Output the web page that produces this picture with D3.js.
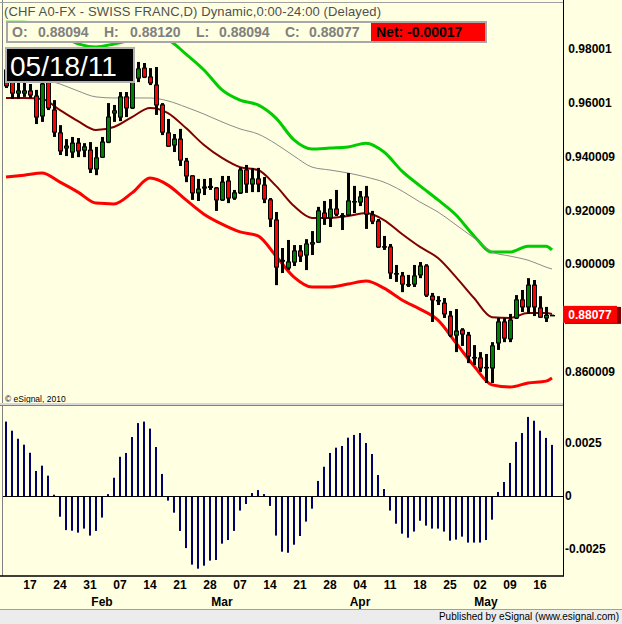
<!DOCTYPE html>
<html>
<head>
<meta charset="utf-8">
<script src="https://cdn.jsdelivr.net/npm/d3@7"></script>
<style>
body { margin: 0; background: #ffffe1; }
svg { display: block; }
text { font-family: "Liberation Sans", Arial, sans-serif; }
</style>
</head>
<body>
<div id="chart"></div>
<script>
// daily CHF bars, one per weekday from 11 Jan 2011 to 18 May 2011
let opens = [0.9722,0.9692,0.9636,0.9636,0.9644,0.9625,0.9551,0.9677,0.9573,0.9488,
    0.9432,0.9417,0.9450,0.9424,0.9424,0.9354,0.9398,0.9454,0.9562,0.9547,
    0.9622,0.9581,0.9692,0.9729,0.9696,0.9666,0.9592,0.9488,0.9443,0.9465,
    0.9383,0.9328,0.9265,0.9283,0.9285,0.9283,0.9239,0.9309,0.9246,0.9265,
    0.9350,0.9298,0.9317,0.9294,0.9239,0.9164,0.9011,0.8986,0.9008,0.9049,
    0.9034,0.9075,0.9082,0.9190,0.9172,0.9205,0.9177,0.9183,0.9231,0.9231,
    0.9250,0.9183,0.9160,0.9064,0.9064,0.8963,0.8956,0.8922,0.8926,0.8960,
    0.8993,0.8881,0.8863,0.8855,0.8807,0.8736,0.8755,0.8736,0.8651,0.8651,
    0.8614,0.8614,0.8707,0.8785,0.8722,0.8800,0.8867,0.8841,0.8922,0.8837,
    0.8800,0.88094];
let highs = [0.9744,0.9722,0.9685,0.9677,0.9670,0.9648,0.9692,0.9689,0.9610,0.9517,
    0.9465,0.9473,0.9469,0.9450,0.9454,0.9436,0.9473,0.9599,0.9592,0.9640,
    0.9640,0.9752,0.9752,0.9748,0.9729,0.9733,0.9599,0.9540,0.9484,0.9503,
    0.9395,0.9331,0.9317,0.9317,0.9320,0.9287,0.9328,0.9328,0.9276,0.9361,
    0.9369,0.9358,0.9358,0.9324,0.9246,0.9194,0.9060,0.9090,0.9071,0.9071,
    0.9093,0.9123,0.9213,0.9235,0.9242,0.9276,0.9190,0.9339,0.9291,0.9272,
    0.9291,0.9198,0.9168,0.9105,0.9075,0.8997,0.8971,0.8960,0.8997,0.9008,
    0.9000,0.8893,0.8881,0.8874,0.8826,0.8833,0.8762,0.8748,0.8699,0.8673,
    0.8666,0.8710,0.8800,0.8800,0.8815,0.8885,0.8904,0.8948,0.8941,0.8881,
    0.8841,0.88120];
let lows = [0.9655,0.9614,0.9614,0.9622,0.9618,0.9521,0.9529,0.9573,0.9473,0.9406,
    0.9402,0.9395,0.9398,0.9398,0.9339,0.9331,0.9395,0.9450,0.9529,0.9532,
    0.9547,0.9577,0.9677,0.9692,0.9666,0.9555,0.9480,0.9436,0.9417,0.9365,
    0.9305,0.9239,0.9235,0.9257,0.9276,0.9198,0.9235,0.9227,0.9239,0.9261,
    0.9265,0.9268,0.9268,0.9227,0.9138,0.8922,0.8967,0.8978,0.8993,0.9008,
    0.8978,0.9034,0.9079,0.9146,0.9138,0.9179,0.9127,0.9179,0.9190,0.9216,
    0.9131,0.9149,0.9060,0.9053,0.8945,0.8934,0.8896,0.8915,0.8915,0.8948,
    0.8878,0.8785,0.8848,0.8800,0.8729,0.8673,0.8696,0.8632,0.8625,0.8599,
    0.8558,0.8558,0.8681,0.8710,0.8710,0.8796,0.8822,0.8815,0.8807,0.8800,
    0.8785,0.88077];
let closes = [0.9663,0.9636,0.9644,0.9644,0.9629,0.9547,0.9670,0.9581,0.9491,0.9421,
    0.9439,0.9450,0.9421,0.9436,0.9354,0.9395,0.9454,0.9547,0.9570,0.9622,
    0.9581,0.9729,0.9726,0.9696,0.9674,0.9592,0.9491,0.9439,0.9465,0.9387,
    0.9328,0.9265,0.9279,0.9287,0.9289,0.9239,0.9305,0.9246,0.9265,0.9350,
    0.9298,0.9317,0.9298,0.9242,0.9168,0.8989,0.9014,0.9008,0.9049,0.9030,
    0.9075,0.9080,0.9198,0.9172,0.9205,0.9186,0.9181,0.9235,0.9233,0.9250,
    0.9186,0.9160,0.9064,0.9065,0.8967,0.8965,0.8926,0.8924,0.8956,0.8993,
    0.8885,0.8867,0.8865,0.8815,0.8736,0.8751,0.8740,0.8658,0.8653,0.8614,
    0.8616,0.8696,0.8785,0.8725,0.8792,0.8867,0.8841,0.8922,0.8841,0.8803,
    0.88094,0.88077];

// lower pane oscillator
let oscValues = [0.00351,0.00308,0.00270,0.00242,0.00204,0.00118,0.00143,0.00096,0.00006,-0.00093,
    -0.00156,-0.00159,-0.00168,-0.00149,-0.00182,-0.00160,-0.00097,0.00009,0.00086,0.00185,
    0.00203,0.00278,0.00344,0.00351,0.00318,0.00231,0.00104,-0.00017,-0.00074,-0.00160,
    -0.00241,-0.00319,-0.00338,-0.00324,-0.00300,-0.00297,-0.00220,-0.00203,-0.00160,-0.00064,
    -0.00033,0.00014,0.00028,0.00009,-0.00042,-0.00182,-0.00258,-0.00263,-0.00225,-0.00184,
    -0.00116,-0.00055,0.00071,0.00138,0.00203,0.00228,0.00236,0.00275,0.00288,0.00297,
    0.00250,0.00198,0.00099,0.00033,-0.00064,-0.00126,-0.00173,-0.00192,-0.00163,-0.00112,
    -0.00135,-0.00149,-0.00149,-0.00163,-0.00206,-0.00201,-0.00187,-0.00215,-0.00215,-0.00215,
    -0.00203,-0.00107,0.00019,0.00066,0.00156,0.00255,0.00297,0.00373,0.00355,0.00308,
    0.00274,0.00241];

// overlay studies, read at every third bar
let lineIdx = [0,3,6,9,12,15,18,21,24,27,30,33,36,39,42,45,48,51,54,57,60,63,66,69,72,75,78,81,84,87,90,91];
let maFast = [0.9618,0.9618,0.9614,0.9573,0.9532,0.9499,0.9510,0.9547,0.9581,0.9562,0.9506,0.9443,0.9395,0.9361,0.9350,0.9291,
    0.9216,0.9172,0.9172,0.9179,0.9190,0.9164,0.9112,0.9064,0.9023,0.8952,0.8874,0.8803,0.8800,0.8818,0.8818,0.8815];
let maSlow = [0.9711,0.9700,0.9689,0.9670,0.9644,0.9622,0.9618,0.9618,0.9618,0.9607,0.9584,0.9558,0.9529,0.9503,0.9484,0.9447,
    0.9402,0.9361,0.9350,0.9339,0.9324,0.9305,0.9272,0.9231,0.9194,0.9146,0.9097,0.9045,0.9030,0.9015,0.8989,0.8982];
let bandUpper = [0.9900,0.9900,0.9893,0.9856,0.9819,0.9808,0.9819,0.9834,0.9848,0.9834,0.9781,0.9722,0.9648,0.9610,0.9592,0.9543,
    0.9462,0.9428,0.9432,0.9436,0.9450,0.9417,0.9346,0.9291,0.9239,0.9183,0.9105,0.9045,0.9045,0.9067,0.9067,0.9053];
let bandLower = [0.9324,0.9331,0.9339,0.9305,0.9268,0.9227,0.9224,0.9265,0.9320,0.9294,0.9239,0.9186,0.9149,0.9120,0.9105,0.9030,
    0.8952,0.8915,0.8915,0.8926,0.8937,0.8911,0.8867,0.8833,0.8792,0.8707,0.8621,0.8551,0.8543,0.8558,0.8565,0.8577];

let priceTicks = [0.98001, 0.96001, 0.940009, 0.920009, 0.900009, 0.860009];
let priceLabels = ['0.98001', '0.96001', '0.940009', '0.920009', '0.900009', '0.860009'];
let oscTicks = [0.0025, 0, -0.0025];
let oscLabels = ['0.0025', '0', '-0.0025'];
let monthNames = ['Feb', 'Mar', 'Apr', 'May'];

let titleText = '(CHF A0-FX - SWISS FRANC,D) Dynamic,0:00-24:00 (Delayed)';
let lastBar = { O: '0.88094', H: '0.88120', L: '0.88094', C: '0.88077', net: '-0.00017' };
let dateText = '05/18/11';

const W = 622, H = 624;
const bg = '#ffffe1';
const axisX = 563;

let days = d3.timeDay.range(new Date(2011, 0, 11), new Date(2011, 4, 19))
    .filter(d => d.getDay() > 0 && d.getDay() < 6);

function draw_chart() {
    let svg = d3.select('#chart').append('svg')
        .attr('width', W)
        .attr('height', H);

    svg.append('rect').attr('width', W).attr('height', H).attr('fill', bg);

    let x = d3.scaleBand()
        .domain(d3.range(days.length))
        .range([3, 3 + 6 * days.length])
        .padding(0);
    let cx = i => x(i) + x.bandwidth() / 2;

    let y = d3.scaleLinear()
        .domain([0.860009, 0.98001])
        .range([371.7, 49]);

    let yo = d3.scaleLinear()
        .domain([-0.0025, 0.0025])
        .range([549, 443]);

    svg.append('clipPath').attr('id', 'priceClip')
        .append('rect').attr('x', 3).attr('y', 3).attr('width', axisX - 3).attr('height', 400);

    // overlay lines
    let lineGen = vals => d3.line()
        .x((d, k) => cx(lineIdx[k]))
        .y(d => y(d))
        .curve(d3.curveMonotoneX)(vals);

    let lines = svg.append('g').attr('clip-path', 'url(#priceClip)');
    [[bandUpper, '#00cc00', 3], [maSlow, '#8c8c8c', 1], [maFast, '#800000', 2], [bandLower, '#ff0000', 3]]
        .forEach(s => {
            lines.append('path')
                .attr('d', lineGen(s[0]))
                .attr('fill', 'none')
                .attr('stroke', s[1])
                .attr('stroke-width', s[2]);
        });

    // candles
    let bars = svg.append('g').selectAll('g')
        .data(d3.range(days.length))
        .enter()
        .append('g');
    bars.append('rect')
        .attr('x', i => cx(i) - 1)
        .attr('y', i => y(highs[i]))
        .attr('width', 3)
        .attr('height', i => Math.max(1, y(lows[i]) - y(highs[i])))
        .attr('fill', '#000');
    bars.append('rect')
        .attr('x', i => cx(i) - 1.5)
        .attr('y', i => y(Math.max(opens[i], closes[i])))
        .attr('width', 4)
        .attr('height', i => Math.max(0.5, Math.abs(y(opens[i]) - y(closes[i]))))
        .attr('fill', i => closes[i] >= opens[i] ? '#008000' : '#ff0000')
        .attr('stroke', '#000')
        .attr('stroke-width', 1);

    // price axis
    svg.append('line')
        .attr('x1', axisX + 0.5).attr('x2', axisX + 0.5)
        .attr('y1', 0).attr('y2', 576)
        .attr('stroke', '#000');
    let pAxis = d3.axisRight(y)
        .tickValues(priceTicks)
        .tickFormat((d, k) => priceLabels[k])
        .tickSize(0);
    svg.append('g')
        .attr('transform', `translate(${axisX}, 0)`)
        .call(pAxis)
        .call(g => g.select('.domain').remove())
        .selectAll('text')
        .attr('x', 27)
        .attr('text-anchor', 'middle')
        .attr('font-size', '12px')
        .attr('font-weight', 'bold')
        .attr('fill', '#000');

    // last price marker
    let yl = y(closes[closes.length - 1]);
    svg.append('rect')
        .attr('x', axisX + 2).attr('y', yl - 9).attr('width', 56).attr('height', 17)
        .attr('fill', '#800000');
    svg.append('rect')
        .attr('x', axisX).attr('y', yl - 10).attr('width', 54).attr('height', 17)
        .attr('fill', '#ff0000');
    svg.append('text')
        .attr('x', axisX + 27).attr('y', yl + 3)
        .attr('text-anchor', 'middle')
        .attr('font-size', '12px')
        .attr('font-weight', 'bold')
        .attr('fill', '#fff')
        .text(lastBar.C);

    // frame
    svg.append('line').attr('x1', 2.5).attr('x2', 2.5).attr('y1', 0).attr('y2', 576)
        .attr('stroke', '#808080');
    svg.append('line').attr('x1', 0).attr('x2', axisX).attr('y1', 2.5).attr('y2', 2.5)
        .attr('stroke', '#a0a0a0');

    svg.append('text')
        .attr('x', 5).attr('y', 402)
        .attr('font-size', '8.5px')
        .attr('fill', '#000')
        .text('\u00a9 eSignal, 2010');

    // pane separator
    svg.append('rect').attr('x', 0).attr('y', 403).attr('width', axisX).attr('height', 3)
        .attr('fill', '#d8d8d8');
    svg.append('line').attr('x1', 0).attr('x2', axisX).attr('y1', 405.5).attr('y2', 405.5)
        .attr('stroke', '#808080');

    // oscillator
    svg.append('line')
        .attr('x1', 3).attr('x2', axisX)
        .attr('y1', yo(0) + 0.5).attr('y2', yo(0) + 0.5)
        .attr('stroke', '#000');
    svg.append('g').selectAll('rect')
        .data(oscValues)
        .enter()
        .append('rect')
        .attr('x', (d, i) => cx(i) - 1)
        .attr('y', d => d >= 0 ? yo(d) : yo(0) + 1)
        .attr('width', 2)
        .attr('height', d => Math.abs(yo(d) - yo(0)))
        .attr('fill', '#000070');

    let oAxis = d3.axisRight(yo)
        .tickValues(oscTicks)
        .tickFormat((d, k) => oscLabels[k])
        .tickSize(0);
    svg.append('g')
        .attr('transform', `translate(${axisX}, 0)`)
        .call(oAxis)
        .call(g => g.select('.domain').remove())
        .selectAll('text')
        .attr('x', 2)
        .attr('font-size', '12px')
        .attr('font-weight', 'bold')
        .attr('fill', '#000');

    // date axis
    svg.append('line').attr('x1', 0).attr('x2', axisX + 1).attr('y1', 576).attr('y2', 576)
        .attr('stroke', '#000').attr('stroke-width', 1.5);
    let mondays = d3.range(days.length).filter(i => days[i].getDay() == 1);
    let dAxis = d3.axisBottom(x)
        .tickValues(mondays)
        .tickFormat(i => d3.timeFormat('%d')(days[i]))
        .tickSize(0);
    svg.append('g')
        .attr('transform', 'translate(0, 577)')
        .call(dAxis)
        .call(g => g.select('.domain').remove())
        .selectAll('text')
        .attr('y', 3)
        .attr('font-size', '12px')
        .attr('font-weight', 'bold')
        .attr('fill', '#000');

    let firsts = d3.range(1, days.length).filter(i => days[i].getMonth() != days[i - 1].getMonth());
    svg.append('g').selectAll('text')
        .data(firsts)
        .enter()
        .append('text')
        .attr('x', i => cx(i) + 6)
        .attr('y', 606)
        .attr('text-anchor', 'middle')
        .attr('font-size', '12px')
        .attr('font-weight', 'bold')
        .text((i, k) => monthNames[k]);

    // footer
    svg.append('rect').attr('x', 0).attr('y', 609).attr('width', W).attr('height', 15)
        .attr('fill', '#ececec');
    svg.append('line').attr('x1', 0).attr('x2', W).attr('y1', 609.5).attr('y2', 609.5)
        .attr('stroke', '#a0a0a0');
    svg.append('text')
        .attr('x', 619).attr('y', 620)
        .attr('text-anchor', 'end')
        .attr('font-size', '10px')
        .attr('fill', '#000')
        .text('Published by eSignal (www.esignal.com)');

    // header
    svg.append('text')
        .attr('x', 4).attr('y', 16)
        .attr('font-size', '13px')
        .attr('fill', '#505050')
        .attr('textLength', 377)
        .text(titleText);

    svg.append('rect')
        .attr('x', 7).attr('y', 22).attr('width', 479).attr('height', 20)
        .attr('fill', bg)
        .attr('stroke', '#a8a8a8')
        .attr('stroke-width', 2);
    let hdr = [['O:', 12], [lastBar.O, 38], ['H:', 104], [lastBar.H, 130], ['L:', 196], [lastBar.L, 219], ['C:', 285], [lastBar.C, 309]];
    svg.append('g').selectAll('text')
        .data(hdr)
        .enter()
        .append('text')
        .attr('x', d => d[1])
        .attr('y', 37)
        .attr('font-size', '14px')
        .attr('font-weight', 'bold')
        .attr('fill', '#808080')
        .text(d => d[0]);
    svg.append('rect')
        .attr('x', 371).attr('y', 23).attr('width', 114).attr('height', 18)
        .attr('fill', '#ff0000');
    svg.append('text')
        .attr('x', 376).attr('y', 37)
        .attr('font-size', '14px')
        .attr('font-weight', 'bold')
        .attr('fill', '#000')
        .text('Net: ' + lastBar.net);

    svg.append('rect')
        .attr('x', 6).attr('y', 48).attr('width', 128).attr('height', 34)
        .attr('fill', '#000')
        .attr('stroke', '#b0b0b0')
        .attr('stroke-width', 2);
    svg.append('text')
        .attr('x', 10).attr('y', 76)
        .attr('font-size', '28px')
        .attr('fill', '#fff')
        .text(dateText);
}

draw_chart();
</script>
</body>
</html>
